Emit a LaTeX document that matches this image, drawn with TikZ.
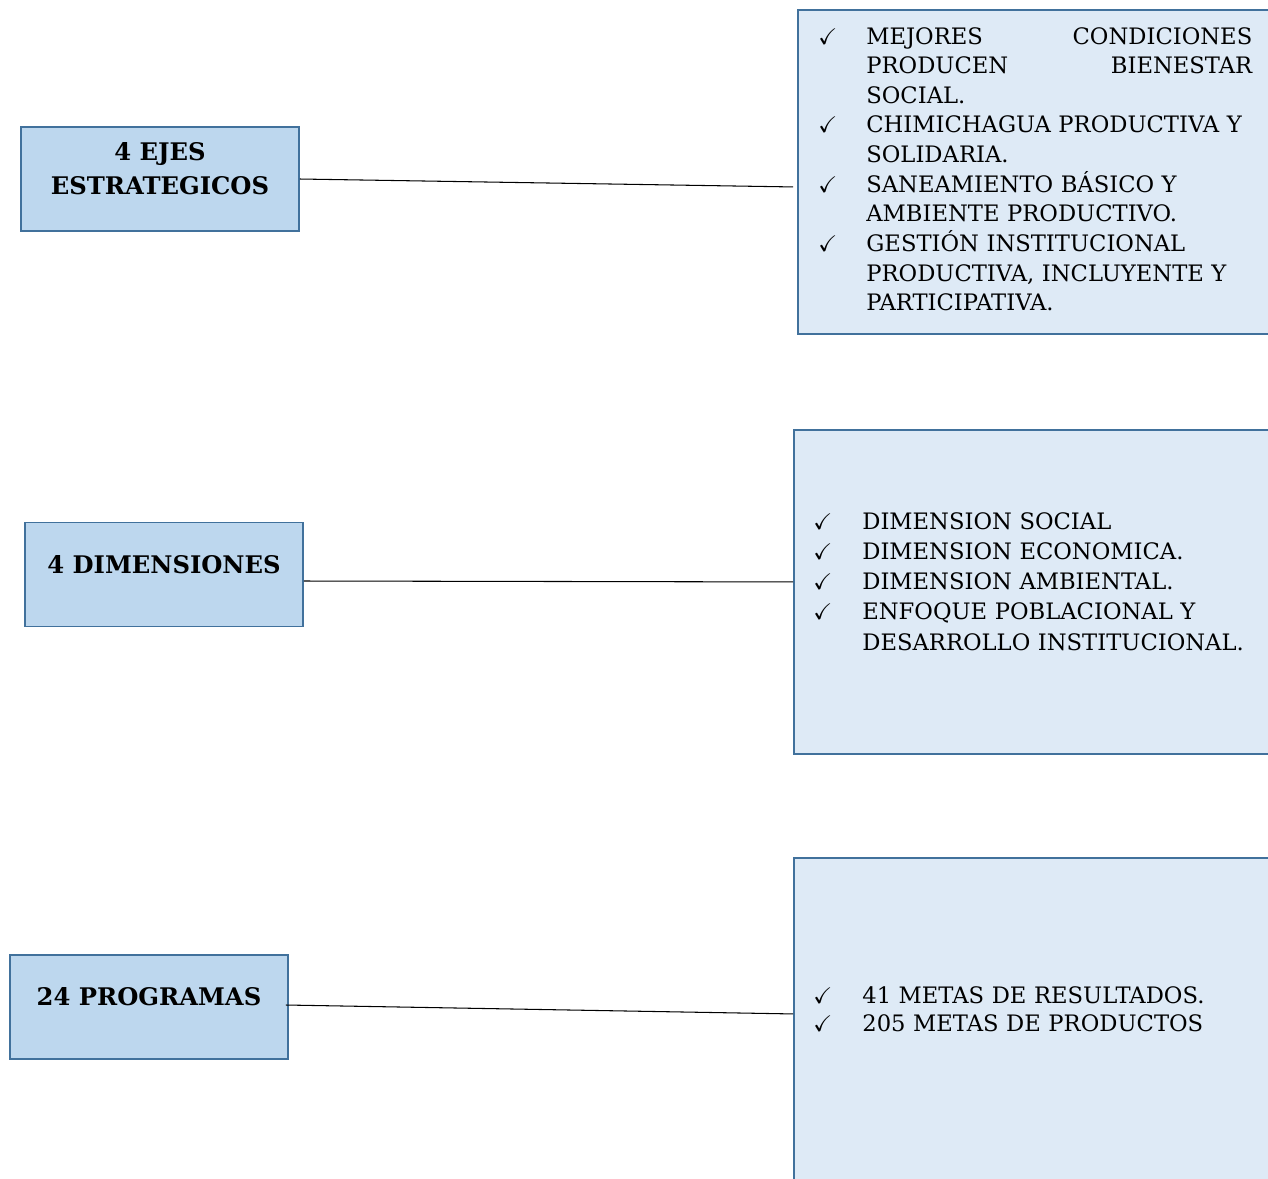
\documentclass[tikz,border=0pt]{standalone}
\usepackage{amssymb}
\usepackage{fontspec}
\setmainfont{DejaVu Serif}
\usepackage{tikz}
\usetikzlibrary{calc}
\definecolor{azulcaja}{HTML}{BDD7EE}
\definecolor{azulborde}{HTML}{41719C}
\definecolor{azullista}{HTML}{DEEAF6}
\newcommand{\chk}[2]{\hangindent=#1\hangafter=1\noindent\makebox[#1][l]{$\checkmark$}#2\par}

\begin{document}
\begin{tikzpicture}[x=0.02cm,y=-0.02cm,
        eje/.style={draw=azulborde,fill=azulcaja,line width=1.1pt,minimum width=5.56cm,minimum height=2.08cm,
            align=center,text depth=0.42cm,font=\fontsize{13.8}{19.5}\selectfont\bfseries},
        lista/.style={draw=azulborde,fill=azullista,line width=1.1pt,anchor=north west,minimum width=10cm},
        items/.style={anchor=north west,inner sep=0pt,text width=9.6cm,font=\fontsize{12.9}{16.85}\selectfont}]
    \useasboundingbox (0,0) rectangle (1268,1178);
    \clip (0,0) rectangle (1268,1178);

    \node[eje] (ejes) at (160,179) {4 EJES\\ESTRATEGICOS};
    \node[eje] (dim) at (164,574.5) {4 DIMENSIONES};
    \node[eje] (prog) at (149,1007) {24 PROGRAMAS};

    \node[lista,minimum height=6.48cm] (ejesR) at (797,9) {};
    \node[lista,minimum height=6.48cm] (dimR) at (793,429) {};
    \node[lista,minimum height=6.9cm] (progR) at (793,857) {};

    \node[items] (ejesT) at (818,27) {%
        \chk{0.96cm}{\hbox to 7.72cm{MEJORES\hfill CONDICIONES}\newline\hbox to 7.72cm{PRODUCEN\hfill BIENESTAR}\newline SOCIAL.}
        \chk{0.96cm}{CHIMICHAGUA PRODUCTIVA Y\newline SOLIDARIA.}
        \chk{0.96cm}{SANEAMIENTO BÁSICO Y\newline AMBIENTE PRODUCTIVO.}
        \chk{0.96cm}{GESTIÓN INSTITUCIONAL\newline PRODUCTIVA, INCLUYENTE Y\newline PARTICIPATIVA.}};
    \node[items,font=\fontsize{12.9}{17.2}\selectfont] (dimT) at (813,512) {%
        \chk{0.98cm}{DIMENSION SOCIAL}
        \chk{0.98cm}{DIMENSION ECONOMICA.}
        \chk{0.98cm}{DIMENSION AMBIENTAL.}
        \chk{0.98cm}{ENFOQUE POBLACIONAL Y\newline DESARROLLO INSTITUCIONAL.}};
    \node[items,font=\fontsize{12.9}{16}\selectfont] (progT) at (813,986) {%
        \chk{0.98cm}{41 METAS DE RESULTADOS.}
        \chk{0.98cm}{205 METAS DE PRODUCTOS}};

    % conectores
    \draw[line width=0.6pt] (ejes.east) -- ($(ejesR.west)+(-4,15)$);
    \draw[line width=0.6pt] ($(dim.east)+(0,6.5)$) -- ($(dimR.west)+(0,-10)$);
    \draw[line width=0.6pt] ($(prog.east)+(-3,-2)$) -- ($(progR.west)+(0,-16.5)$);
\end{tikzpicture}
\end{document}
